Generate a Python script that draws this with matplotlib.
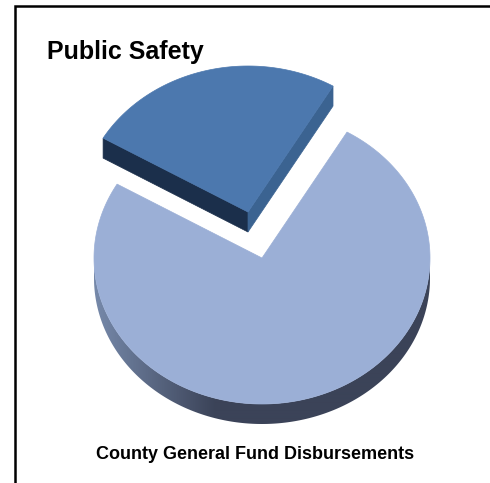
import numpy as np
import matplotlib
matplotlib.use("Agg")
import matplotlib.pyplot as plt
from matplotlib.patches import Polygon

# --- data ---
categories = ["Public Safety", "Other"]
shares = [25, 75]
chart_title = "Public Safety"
chart_caption = "County General Fund Disbursements"

# --- style ---
W, H = 490, 483
CX, CY = 262, 258           # main pie centre (px)
RX, RY = 168, 146           # top-face radii (px)
DEPTH = 20                  # wall height (px)
EXPLODE = (-14, -46)        # offset of highlighted slice (px)
START = 59.6                # parametric start angle of slice 1 (deg, ccw)
TOP_COLORS = ["#4c78ae", "#9bafd6"]
CUT_LEFT = "#1b2f4b"
CUT_RIGHT = "#3b6391"
WALL_LIGHT = np.array([0x76, 0x89, 0xaa]) / 255
WALL_DARK = np.array([0x3b, 0x43, 0x58]) / 255
WALL_STOP = 215             # px x at which wall reaches dark tone
FONT = "Liberation Sans"

fig = plt.figure(figsize=(W / 100, H / 100), dpi=100, facecolor="white")
ax = fig.add_axes([0, 0, 1, 1])

def rim(cx, cy, a0, a1, n=180):
    t = np.radians(np.linspace(a0, a1, n))
    return cx + RX * np.cos(t), cy - RY * np.sin(t)

ends = START + np.cumsum(shares) / sum(shares) * 360
starts = np.r_[START, ends[:-1]]

# main slice wall: horizontal gradient clipped to the visible rim band
a0, a1 = starts[1], ends[1]
x, y = rim(CX, CY, max(a0, 180), min(a1, 360), 300)
wall = Polygon(np.r_[np.c_[x, y], np.c_[x, y + DEPTH][::-1]], closed=True,
               fc="none", ec="none")
ax.add_patch(wall)
xs = np.arange(CX - RX - 1, CX + RX + 2)
f = np.clip((xs - (CX - RX)) / (WALL_STOP - (CX - RX)), 0, 1)[None, :, None]
grad = WALL_LIGHT[None, None, :] * (1 - f) + WALL_DARK[None, None, :] * f
im = ax.imshow(grad, extent=(xs[0], xs[-1], CY + RY + DEPTH + 2, CY - 2),
               aspect="auto", interpolation="bilinear", zorder=1)
im.set_clip_path(wall)

# main slice top face
x, y = rim(CX, CY, a0, a1, 400)
ax.add_patch(Polygon(np.r_[[(CX, CY)], np.c_[x, y]], closed=True,
                     fc=TOP_COLORS[1], ec=TOP_COLORS[1], lw=0.5, zorder=2))

# highlighted slice: cut faces then top face
ex, ey = CX + EXPLODE[0], CY + EXPLODE[1]
x, y = rim(ex, ey, starts[0], ends[0])
ax.add_patch(Polygon([(ex, ey), (x[-1], y[-1]), (x[-1], y[-1] + DEPTH), (ex, ey + DEPTH)],
                     closed=True, fc=CUT_LEFT, ec=CUT_LEFT, lw=0.5, zorder=2))
ax.add_patch(Polygon([(ex, ey), (x[0], y[0]), (x[0], y[0] + DEPTH), (ex, ey + DEPTH)],
                     closed=True, fc=CUT_RIGHT, ec=CUT_RIGHT, lw=0.5, zorder=2))
ax.add_patch(Polygon(np.r_[[(ex, ey)], np.c_[x, y]], closed=True,
                     fc=TOP_COLORS[0], ec=TOP_COLORS[0], lw=0.5, zorder=3))

# frame: left and top edges only
ax.plot([14.5, 14.5, W], [H, 6, 6], color="black", lw=1.8,
        solid_joinstyle="miter", zorder=4)

ax.text(47, 59, chart_title, family=FONT, fontweight="bold", fontsize=18,
        color="black", ha="left", va="baseline", zorder=5)
ax.text(255.5, 459, chart_caption, family=FONT, fontweight="bold", fontsize=13,
        color="black", ha="center", va="baseline", zorder=5)

ax.set_xlim(0, W)
ax.set_ylim(H, 0)
ax.axis("off")

fig.savefig("out.png", dpi=100, facecolor="white")
